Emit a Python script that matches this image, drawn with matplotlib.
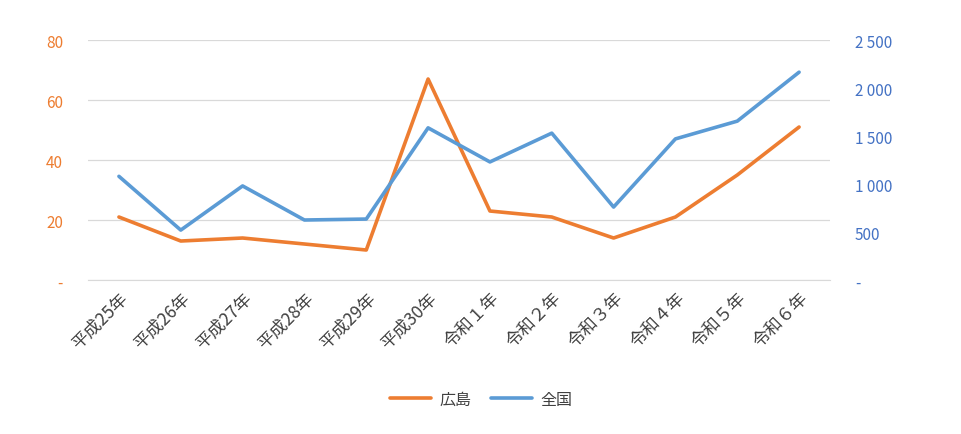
import matplotlib.pyplot as plt
from matplotlib.ticker import FuncFormatter

plt.rcParams['font.family'] = ['Noto Sans CJK JP', 'DejaVu Sans']

years = ["平成25年", "平成26年", "平成27年", "平成28年", "平成29年", "平成30年",
         "令和１年", "令和２年", "令和３年", "令和４年", "令和５年", "令和６年"]
hiroshima = [21, 13, 14, 12, 10, 67, 23, 21, 14, 21, 35, 51]
zenkoku = [1080, 520, 980, 625, 635, 1585, 1230, 1530, 760, 1470, 1655, 2165]

orange = '#ED7D31'
blue = '#5B9BD5'

fig = plt.figure(figsize=(9.62, 4.35), dpi=100)
ax = fig.add_axes([0.0915, 0.354, 0.7713, 0.5517])
ax2 = ax.twinx()

x = range(len(years))
l1, = ax.plot(x, hiroshima, color=orange, lw=2.6, label='広島', solid_capstyle='round')
l2, = ax2.plot(x, zenkoku, color=blue, lw=2.6, label='全国', solid_capstyle='round')

ax.set_xlim(-0.5, len(years) - 0.5)
ax.set_ylim(0, 80)
ax2.set_ylim(0, 2500)
ax.set_yticks([0, 20, 40, 60, 80])
ax2.set_yticks([0, 500, 1000, 1500, 2000, 2500])

def left_fmt(v, pos):
    return '-' if v == 0 else f'{int(v)}'

def right_fmt(v, pos):
    return '-' if v == 0 else f'{int(v):,}'.replace(',', ' ')

ax.yaxis.set_major_formatter(FuncFormatter(left_fmt))
ax2.yaxis.set_major_formatter(FuncFormatter(right_fmt))

ax.grid(axis='y', color='#D9D9D9', lw=0.9)
ax.set_axisbelow(True)
for a in (ax, ax2):
    for s in a.spines.values():
        s.set_visible(False)
ax.spines['bottom'].set_visible(True)
ax.spines['bottom'].set_color('#D9D9D9')

ax.tick_params(axis='y', length=0, pad=18, labelsize=11, labelcolor=orange)
ax2.tick_params(axis='y', length=0, pad=18, labelsize=11, labelcolor='#4472C4')
ax.tick_params(axis='x', length=0, pad=6, labelsize=12.5, labelcolor='#404040')
ax.set_xticks(list(x))
ax.set_xticklabels(years, rotation=45, ha='right', rotation_mode='anchor')

fig.legend([l1, l2], ['広島', '全国'], loc='center', bbox_to_anchor=(0.5, 0.08),
           ncol=2, frameon=False, fontsize=11.5, handlelength=2.6,
           handletextpad=0.5, columnspacing=1.2, labelcolor='#404040')

fig.savefig('out.png', dpi=100)
